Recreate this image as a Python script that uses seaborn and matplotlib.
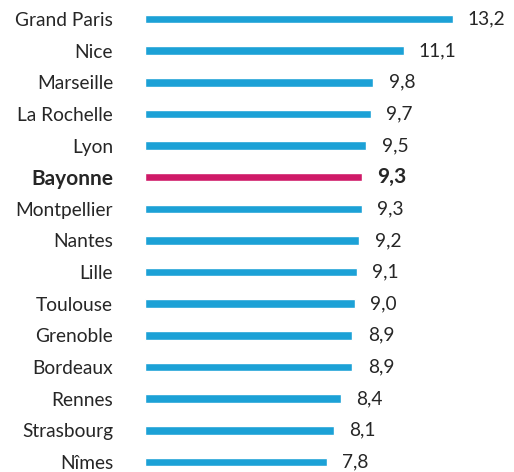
import matplotlib
matplotlib.use("Agg")
import matplotlib.pyplot as plt
import seaborn as sns
import pandas as pd

cities = ["Grand Paris", "Nice", "Marseille", "La Rochelle", "Lyon", "Bayonne",
          "Montpellier", "Nantes", "Lille", "Toulouse", "Grenoble", "Bordeaux",
          "Rennes", "Strasbourg", "Nîmes"]
values = [13.2, 11.1, 9.8, 9.7, 9.5, 9.3, 9.3, 9.2, 9.1, 9.0, 8.9, 8.9, 8.4, 8.1, 7.8]
highlight = "Bayonne"

BLUE = "#1ca1d6"
PINK = "#cf1a68"
TXT = "#262626"

sns.set_theme(style="white")
plt.rcParams['font.family'] = ['Lato', 'DejaVu Sans']

df = pd.DataFrame({"city": cities, "value": values})
palette = {c: (PINK if c == highlight else BLUE) for c in cities}

fig = plt.figure(figsize=(5.14, 4.72), dpi=100)
ax = fig.add_axes([145 / 514, 0, 1 - 145 / 514, 1])
sns.barplot(data=df, y="city", x="value", hue="city", palette=palette,
            order=cities, width=0.27, legend=False, ax=ax, saturation=1)

px_per_unit = 23.3
ax.set_xlim(0, (514 - 145) / px_per_unit)
ax.set_ylim(14.32, -0.6)
ax.set_xlabel("")
ax.set_ylabel("")
ax.set_xticks([])
for s in ax.spines.values():
    s.set_visible(False)

NORMAL = 13.8
BOLD = 15

ax.tick_params(axis="y", length=0, pad=23)
for lbl in ax.get_yticklabels():
    lbl.set_fontsize(NORMAL)
    lbl.set_color(TXT)
    if lbl.get_text() == highlight:
        lbl.set_fontweight("bold")
        lbl.set_fontsize(BOLD)

for i, (c, v) in enumerate(zip(cities, values)):
    bold = c == highlight
    ax.annotate(f"{v:.1f}".replace(".", ","), xy=(v, i), xytext=(11, 0),
                textcoords="offset points", va="center", ha="left",
                fontsize=BOLD if bold else NORMAL, color=TXT,
                fontweight="bold" if bold else "normal")

fig.savefig("out.png", dpi=100)
